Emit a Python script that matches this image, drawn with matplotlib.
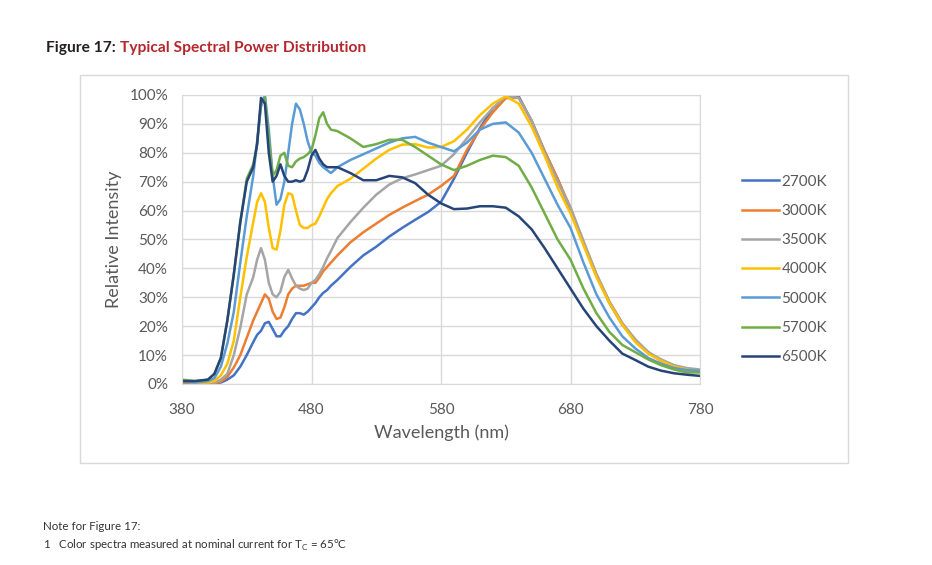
import matplotlib.pyplot as plt
from matplotlib.patches import Rectangle
from matplotlib.ticker import FuncFormatter, MultipleLocator

plt.rcParams["font.family"] = ["Lato", "DejaVu Sans"]

wavelength = [380, 390, 400, 405, 410, 415, 420, 425, 430, 435,
              438, 441, 444, 447, 450, 453, 456, 459, 462, 465,
              468, 471, 474, 477, 480, 483, 486, 489, 492, 495,
              500, 510, 520, 530, 540, 550, 560, 570, 580, 590,
              600, 610, 620, 630, 640, 650, 660, 670, 680, 690,
              700, 710, 720, 730, 740, 750, 760, 770, 780]

k2700 = [0.5, 0.5, 0.3, 0.3, 0.5, 1.5, 3, 6, 10, 14.5,
         17, 18.4, 21, 21.5, 19, 16.5, 16.5, 18.5, 20, 22.5,
         24.5, 24.5, 24, 25, 26.5, 28, 30, 31.5, 32.5, 34,
         36, 40.5, 44.5, 47.5, 51, 54, 56.8, 59.5, 63, 71,
         80, 88.5, 95.4, 99, 99.5, 91, 80.5, 71, 60, 48.5,
         37.5, 28, 20.5, 15, 11, 8, 6.3, 5, 4.5]
k3000 = [0.5, 0.5, 0.5, 0.3, 0.8, 2.5, 5.7, 10, 16, 22,
         25, 28, 31, 29.5, 25, 22.5, 23, 26.5, 31, 33,
         34, 34, 34, 34.5, 35, 35, 36.8, 39, 40.5, 42,
         44.5, 49, 52.5, 55.5, 58.5, 61, 63.3, 65.5, 68.5, 72,
         81, 88, 94, 98.9, 99, 91, 80.5, 71, 61, 49,
         38, 28.5, 21, 15, 11, 8, 6.3, 5, 4.5]
k3500 = [1, 0.5, 0.5, 0.5, 1.5, 3.5, 10, 19.5, 31, 37,
         43, 47, 43, 35, 31, 30, 32, 37, 39.5, 36.5,
         34, 33, 32.5, 33, 35, 36, 38, 40.5, 43.5, 46,
         50.5, 56, 61, 65.5, 69, 71.2, 72.5, 74, 75.5, 79.5,
         85, 90.5, 95.5, 99.5, 99, 91, 80, 70, 61, 49.5,
         38, 28.5, 21, 15.5, 11, 8.5, 6.5, 5.5, 5]
k4000 = [1, 0.5, 0.5, 1, 3, 7, 15, 30, 44, 56,
         63, 66, 63, 54, 47, 46.5, 53, 62, 66, 65.5,
         60, 55, 54, 54, 55, 55.5, 58, 61, 64, 66,
         68.5, 71, 74.5, 78, 81, 82.8, 83, 81.8, 82, 84,
         88, 93, 97, 99.5, 97, 89, 79, 68, 59, 48,
         37, 28, 20.5, 14.5, 10.5, 8, 6, 5, 4]
k5000 = [1, 0.5, 1, 2, 6, 14, 25, 42, 58, 72,
         84, 96, 100, 88, 72, 62, 64, 70, 80, 90,
         97, 95, 90, 84, 80, 79, 76.5, 75, 74, 73,
         75, 77.5, 79.5, 81.5, 83.5, 85, 85.5, 83.5, 82, 80.5,
         83.5, 88, 90, 90.5, 87, 80, 71, 62, 54, 42,
         31, 23, 16.5, 12.3, 9, 7, 5.5, 4.8, 4.5]
k5700 = [1.5, 1, 1.5, 3.5, 9, 22, 38, 56, 71, 76,
         83, 97, 99, 85, 72, 74, 79, 80, 75.5, 75,
         77, 78, 78.5, 79.5, 81, 86, 92, 94, 90, 88,
         87.5, 85, 82, 83, 84.5, 84.5, 82, 79, 76, 74,
         75.5, 77.5, 79, 78.5, 75.5, 68, 59, 50, 43, 33,
         24.5, 18, 13.5, 11, 8.5, 6.5, 5, 4, 4]
k6500 = [1, 1, 1.5, 3.5, 9, 22, 38, 56, 70, 75,
         83, 99, 97, 80, 70, 72, 76, 72, 70, 70,
         70.5, 70, 70.5, 74, 79, 81, 78, 76, 75, 75,
         75, 73, 70.5, 70.5, 72, 71.5, 69.5, 65.5, 62.5, 60.5,
         60.7, 61.5, 61.5, 61, 58, 53.5, 47, 40, 33, 26,
         20, 15, 10.5, 8.3, 6, 4.6, 3.7, 3.2, 2.8]

labels = ["2700K", "3000K", "3500K", "4000K", "5000K", "5700K", "6500K"]
colors = ["#4472C4", "#ED7D31", "#A5A5A5", "#FFC000", "#5B9BD5", "#70AD47", "#264478"]
series = [k2700, k3000, k3500, k4000, k5000, k5700, k6500]
x_ticks = [380, 480, 580, 680, 780]

fig = plt.figure(figsize=(9.32, 5.65), dpi=100)
fig.patch.set_facecolor("white")

# outer chart frame
fig.patches.append(Rectangle((0.0858, 0.1805), 0.8241, 0.6868, transform=fig.transFigure,
                             fill=False, edgecolor="#D9D9D9", linewidth=1.0))

ax = fig.add_axes([0.1953, 0.3204, 0.5558, 0.5115])
for vals, lab, col in zip(series, labels, colors):
    ax.plot(wavelength, [v / 100 for v in vals], color=col, lw=1.8, label=lab)

ax.set_xlim(380, 780)
ax.set_ylim(0, 1.0)
ax.set_xticks(x_ticks)
ax.yaxis.set_major_locator(MultipleLocator(0.1))
ax.yaxis.set_major_formatter(FuncFormatter(lambda v, p: f"{v * 100:.0f}%"))
ax.grid(True, color="#D9D9D9", lw=1.0)
ax.set_axisbelow(True)
for s in ax.spines.values():
    s.set_color("#D9D9D9")
ax.tick_params(axis="y", length=0, colors="#595959", labelsize=11, pad=10)
ax.tick_params(axis="x", length=0, colors="#595959", labelsize=11, pad=14)
ax.set_xlabel("Wavelength (nm)", fontsize=13, color="#595959", labelpad=5)
ax.set_ylabel("Relative Intensity", fontsize=13, color="#595959", labelpad=5)

handles, names = ax.get_legend_handles_labels()
leg = fig.legend(handles, names, loc="upper left", bbox_to_anchor=(0.7965, 0.691),
                 frameon=False, fontsize=11, labelspacing=1.0, handlelength=2.4,
                 handletextpad=0.15, borderaxespad=0, borderpad=0)
for t in leg.get_texts():
    t.set_color("#595959")

fig.text(0.049, 0.915, "Figure 17: ", fontsize=11.2, fontweight="bold", color="#231F20", va="center")
fig.text(0.129, 0.915, "Typical Spectral Power Distribution", fontsize=11.2, fontweight="bold",
         color="#B5272D", va="center")
fig.text(0.046, 0.069, "Note for Figure 17:", fontsize=8.3, color="#333333", va="center")
fig.text(0.046, 0.035, "1   Color spectra measured at nominal current for T$_\\mathregular{C}$ = 65°C",
         fontsize=8.3, color="#333333", va="center")

fig.savefig("out.png", dpi=100)
